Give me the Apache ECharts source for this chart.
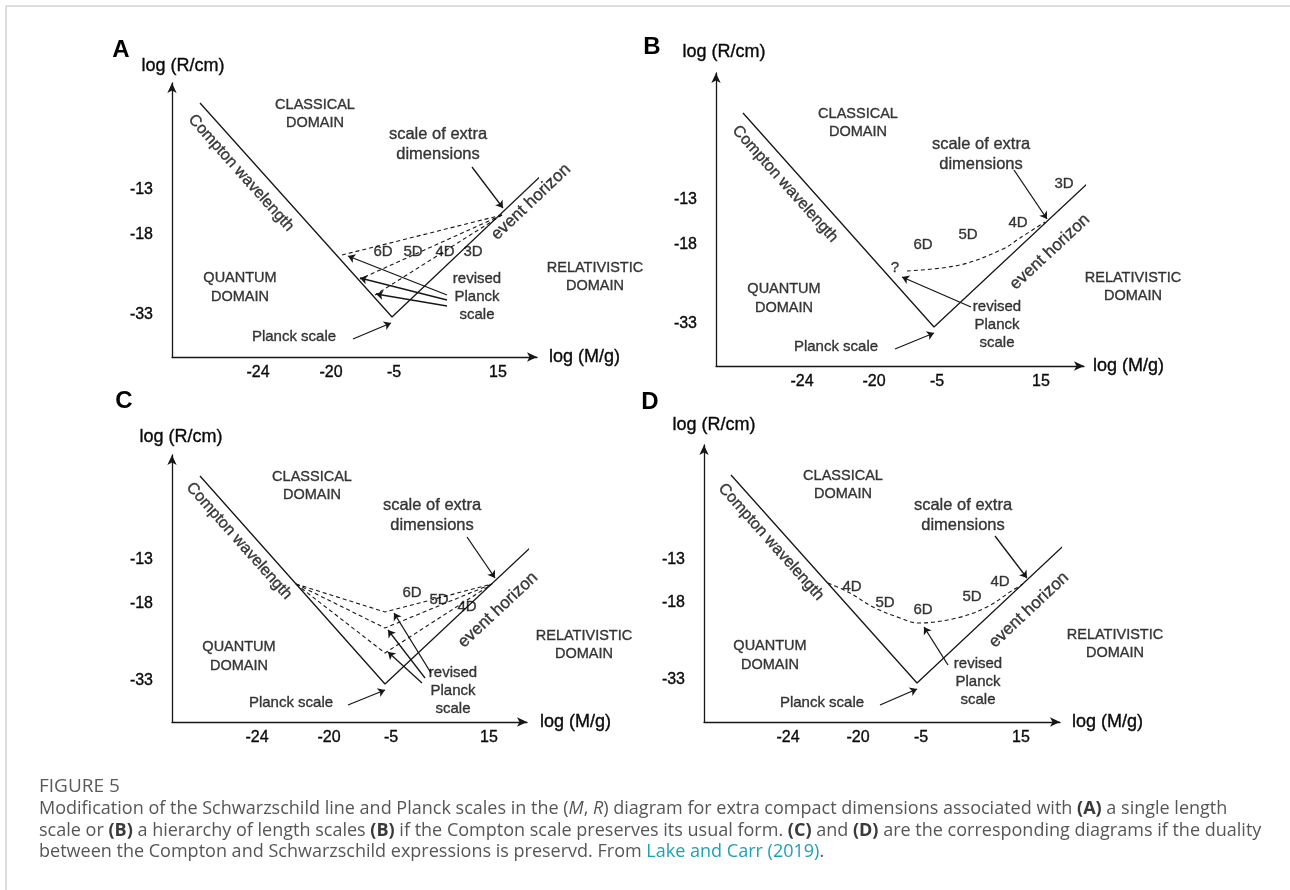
<!DOCTYPE html>
<html><head><meta charset="utf-8">
<script src="https://cdn.jsdelivr.net/npm/echarts@6/dist/echarts.min.js"></script>
<style>html,body{margin:0;padding:0;background:#fff}#c{width:1290px;height:890px}</style>
</head><body><div id="c"></div>
<script>
// ---------------- DATA (diagram units of each panel: A, B, C, D) ----------------
const panelNames = ['A', 'B', 'C', 'D'];
const xTickLabels = ['-24', '-20', '-5', '15'];
const yTickLabels = ['-13', '-18', '-33'];
const xAxisTitle = 'log (M/g)';
const yAxisTitle = 'log (R/cm)';

const xExtent = [365, 368, 355, 356];
const yExtent = [274, 293, 267, 277];
const xTickPos = [[86, 159, 222, 326], [86, 158, 221, 325], [85, 157, 219, 317], [84, 154, 217, 317]];
const yTickPos = [[167, 122, 42], [166, 121, 42], [162, 118, 41], [162, 119, 42]];

// Compton wavelength line -> Planck vertex -> event horizon line
const boundaryA = [[28, 254], [220, 40], [415, 225]];
const boundaryB = [[27, 253], [218, 39], [416, 224]];
const boundaryC = [[28, 246], [213, 38], [406, 219]];
const boundaryD = [[27, 247], [213, 39], [405, 219]];

// extra-dimension (dashed) paths
const dashA = [[[330, 142], [170, 102]], [[330, 142], [188, 78]], [[330, 142], [203, 62]]];
const dashC = [[[124, 138], [213, 110], [320, 138]], [[124, 138], [213, 94], [320, 138]], [[124, 138], [213, 69], [320, 138]]];
const curveB = [[191, 95], [244, 101], [287, 117], [304, 128], [329, 144]];
const curveD = [[124, 139], [146, 129], [169, 115], [196, 104], [214, 99], [253, 104], [283, 115], [309, 132], [319, 138]];

// arrows [from, to]
const arrowsA = [[[300, 190], [331, 149]], [[275, 62], [176, 101]], [[275, 57], [188, 79]], [[275, 51], [204, 63]], [[181, 18], [219, 34]]];
const arrowsB = [[[298, 196], [331, 147]], [[255, 59], [186, 89]], [[179, 17], [218, 33]]];
const arrowsC = [[[295, 185], [323, 144]], [[259, 49], [222, 109]], [[253, 44], [216, 92]], [[250, 39], [216, 70]], [[176, 17], [213, 32]]];
const arrowsD = [[[291, 186], [323, 144]], [[244, 57], [220, 95]], [[176, 17], [213, 33]]];

// dimension labels [x, y, text]
const dimsA = [[211, 105, '6D'], [241, 105, '5D'], [273, 105, '4D'], [301, 105, '3D']];
const dimsB = [[207, 121, '6D'], [252, 131, '5D'], [302, 143, '4D'], [348, 182, '3D'], [179, 98, '?']];
const dimsC = [[240, 129, '6D'], [267, 122, '5D'], [295, 115, '4D']];
const dimsD = [[148, 135, '4D'], [181, 119, '5D'], [219, 112, '6D'], [268, 125, '5D'], [296, 140, '4D']];

// region / annotation label anchors
const classicalPos = [[143, 243], [142, 243], [140, 236], [139, 237]];
const quantumPos = [[68, 70], [68, 68], [67, 66], [66, 67]];
const relativisticPos = [[423, 80], [417, 79], [412, 77], [411, 78]];
const extraScalePos = [[266, 213], [265, 212], [260, 207], [259, 207]];
const revisedPos = [[305, 60], [281, 41], [281, 31], [274, 40]];
const planckPos = [[122, 20], [120, 19], [119, 19], [118, 19]];
const comptonTextPos = [[69, 184], [69, 182], [67, 181], [67, 180]];
const horizonTextPos = [[359, 155], [334, 114], [326, 112], [325, 112]];

const captionLines = [
  'Modification of the Schwarzschild line and Planck scales in the ({i|M}, {i|R}) diagram for extra compact dimensions associated with {b|(A)} a single length',
  'scale or {b|(B)} a hierarchy of length scales {b|(B)} if the Compton scale preserves its usual form. {b|(C)} and {b|(D)} are the corresponding diagrams if the duality',
  'between the Compton and Schwarzschild expressions is preservd. From {l|Lake and Carr (2019)}.'
];

// ---------------- LAYOUT / STYLE ----------------
const boundaries = [boundaryA, boundaryB, boundaryC, boundaryD];
const dashes = [dashA, null, dashC, null];
const curves = [null, curveB, null, curveD];
const arrows = [arrowsA, arrowsB, arrowsC, arrowsD];
const dims = [dimsA, dimsB, dimsC, dimsD];

const gridLeft = [172, 716, 172, 704];
const gridTop = [83, 73, 455, 445];
const xNameGap = [12, 9, 13, 12];
const yNameGap = [8, 12, 9, 11];
const yNameShift = [22, 16, 18, 20];
const comptonRot = [-48.3, -48.3, -48.4, -48.4];
const horizonRot = [43.5, 43, 43.1, 43.2];
const letterPos = [[121, 50], [652, 47], [124, 401], [650, 402]];

const FONT = '"Liberation Sans", Arial, Helvetica, sans-serif';
const INK = '#0a0a0a';
const LINE = '#161616';
const CAPFONT = '"Open Sans", "Noto Sans", sans-serif';
const HALO = { textBorderColor: INK, textBorderWidth: 0.35 };

function measure(text, font) {
  const c = document.createElement('canvas').getContext('2d');
  c.font = font;
  return c.measureText(text).width;
}
const plain2 = captionLines[1].replace(/\{[a-z]\|([^}]*)\}/g, '$1');
const capSize = Math.max(12, Math.min(19, 100 * 1216 / measure(plain2, '100px ' + CAPFONT)));
const figSize = Math.max(12, Math.min(19, 100 * 82 / measure('FIGURE 5', '100px ' + CAPFONT)));

const idx = [0, 1, 2, 3];
const series = [];
function lbl(x, y, text, size, extra) {
  return {
    value: [x, y],
    label: Object.assign({
      show: true, position: 'inside', formatter: text, fontSize: size,
      color: INK, fontFamily: FONT, lineHeight: Math.round(size * 1.2)
    }, HALO, extra || {})
  };
}
idx.forEach(i => {
  const ax = { xAxisIndex: i, yAxisIndex: i };
  series.push(Object.assign({
    type: 'line', data: boundaries[i], showSymbol: false, symbol: 'none', clip: false, silent: true,
    lineStyle: { color: LINE, width: 1.3 }, z: 2
  }, ax));
  if (dashes[i]) {
    series.push(Object.assign({
      type: 'lines', coordinateSystem: 'cartesian2d', polyline: true, clip: false, silent: true,
      data: dashes[i].map(c => ({ coords: c })),
      lineStyle: { color: LINE, width: 1.1, type: [4, 3], opacity: 1 }, z: 2
    }, ax));
  }
  if (curves[i]) {
    series.push(Object.assign({
      type: 'line', data: curves[i], showSymbol: false, symbol: 'none', smooth: 0.35, clip: false, silent: true,
      lineStyle: { color: LINE, width: 1.1, type: [4, 3] }, z: 2
    }, ax));
  }
  series.push(Object.assign({
    type: 'lines', coordinateSystem: 'cartesian2d', clip: false, silent: true,
    symbol: ['none', 'arrow'], symbolSize: 7,
    data: arrows[i].map(c => ({ coords: c })),
    lineStyle: { color: LINE, width: 1.3, opacity: 1 }, itemStyle: { color: LINE }, z: 3
  }, ax));
  const texts = [
    lbl(classicalPos[i][0], classicalPos[i][1], 'CLASSICAL\nDOMAIN', 14.5, { lineHeight: 18 }),
    lbl(quantumPos[i][0], quantumPos[i][1], 'QUANTUM\nDOMAIN', 14.5, { lineHeight: 19 }),
    lbl(relativisticPos[i][0], relativisticPos[i][1], 'RELATIVISTIC\nDOMAIN', 14.5, { lineHeight: 18 }),
    lbl(extraScalePos[i][0], extraScalePos[i][1], 'scale of extra\ndimensions', 16.5, { lineHeight: 20 }),
    lbl(revisedPos[i][0], revisedPos[i][1], 'revised\nPlanck\nscale', 15, { lineHeight: 18 }),
    lbl(planckPos[i][0], planckPos[i][1], 'Planck scale', 15),
    lbl(comptonTextPos[i][0], comptonTextPos[i][1], 'Compton wavelength', 16, { rotate: comptonRot[i] }),
    lbl(horizonTextPos[i][0], horizonTextPos[i][1], 'event horizon', 17, { rotate: horizonRot[i] })
  ].concat(dims[i].map(d => lbl(d[0], d[1], d[2], 15)));
  series.push(Object.assign({
    type: 'scatter', data: texts, symbolSize: 0.1, itemStyle: { color: 'rgba(0,0,0,0)' },
    clip: false, silent: true, z: 5
  }, ax));
});

const capBase = { fontSize: capSize, fontFamily: CAPFONT, fill: '#565656' };
const option = {
  animation: false,
  backgroundColor: '#fff',
  grid: idx.map(i => ({ left: gridLeft[i], top: gridTop[i], width: xExtent[i], height: yExtent[i], containLabel: false, outerBoundsMode: 'none' })),
  xAxis: idx.map(i => ({
    type: 'value', gridIndex: i, min: 0, max: xExtent[i],
    axisLine: { show: true, symbol: ['none', 'arrow'], symbolSize: [7, 10], lineStyle: { color: LINE, width: 1.3 } },
    axisTick: { show: false }, splitLine: { show: false },
    axisLabel: Object.assign({
      customValues: xTickPos[i], margin: 8, fontSize: 16, color: INK, fontFamily: FONT,
      formatter: v => xTickLabels[xTickPos[i].indexOf(v)] || ''
    }, HALO),
    name: xAxisTitle, nameLocation: 'end', nameGap: xNameGap[i],
    nameTextStyle: Object.assign({ fontSize: 18, color: INK, fontFamily: FONT }, HALO)
  })),
  yAxis: idx.map(i => ({
    type: 'value', gridIndex: i, min: 0, max: yExtent[i],
    axisLine: { show: true, symbol: ['none', 'arrow'], symbolSize: [7, 10], lineStyle: { color: LINE, width: 1.3 } },
    axisTick: { show: false }, splitLine: { show: false },
    axisLabel: Object.assign({
      customValues: yTickPos[i], margin: 19, fontSize: 16, color: INK, fontFamily: FONT,
      formatter: v => yTickLabels[yTickPos[i].indexOf(v)] || ''
    }, HALO),
    name: yAxisTitle, nameLocation: 'end', nameGap: yNameGap[i],
    nameTextStyle: Object.assign({ fontSize: 18, color: INK, fontFamily: FONT, padding: [0, 0, 0, yNameShift[i]] }, HALO)
  })),
  series: series,
  graphic: [
    { type: 'line', shape: { x1: 6, y1: 6, x2: 1290, y2: 6 }, style: { stroke: '#d2d2d2', lineWidth: 1.5 }, silent: true },
    { type: 'line', shape: { x1: 6, y1: 6, x2: 6, y2: 890 }, style: { stroke: '#d2d2d2', lineWidth: 1.5 }, silent: true }
  ].concat(idx.map(i => ({
    type: 'text', x: letterPos[i][0], y: letterPos[i][1], silent: true,
    style: { text: panelNames[i], fontSize: 24, fontWeight: 'bold', fontFamily: FONT, fill: '#000', align: 'center', verticalAlign: 'middle' }
  }))).concat([
    {
      type: 'text', x: 39, y: 787, silent: true,
      style: { text: 'FIGURE 5', fontSize: figSize, fontFamily: CAPFONT, fill: '#5a5a5a', verticalAlign: 'middle' }
    },
    {
      type: 'text', x: 39, y: 798, silent: true,
      style: Object.assign({}, capBase, {
        text: captionLines.join('\n'), lineHeight: 21.7, verticalAlign: 'top',
        rich: {
          b: Object.assign({}, capBase, { fontWeight: 'bold', fill: '#3a3a3a', lineHeight: 21.7 }),
          i: Object.assign({}, capBase, { fontStyle: 'italic', lineHeight: 21.7 }),
          l: Object.assign({}, capBase, { fill: '#1f9fb5', lineHeight: 21.7 })
        }
      })
    }
  ])
};
const chart = echarts.init(document.getElementById('c'), null, { renderer: 'canvas' });
chart.setOption(option);
</script>
</body></html>
